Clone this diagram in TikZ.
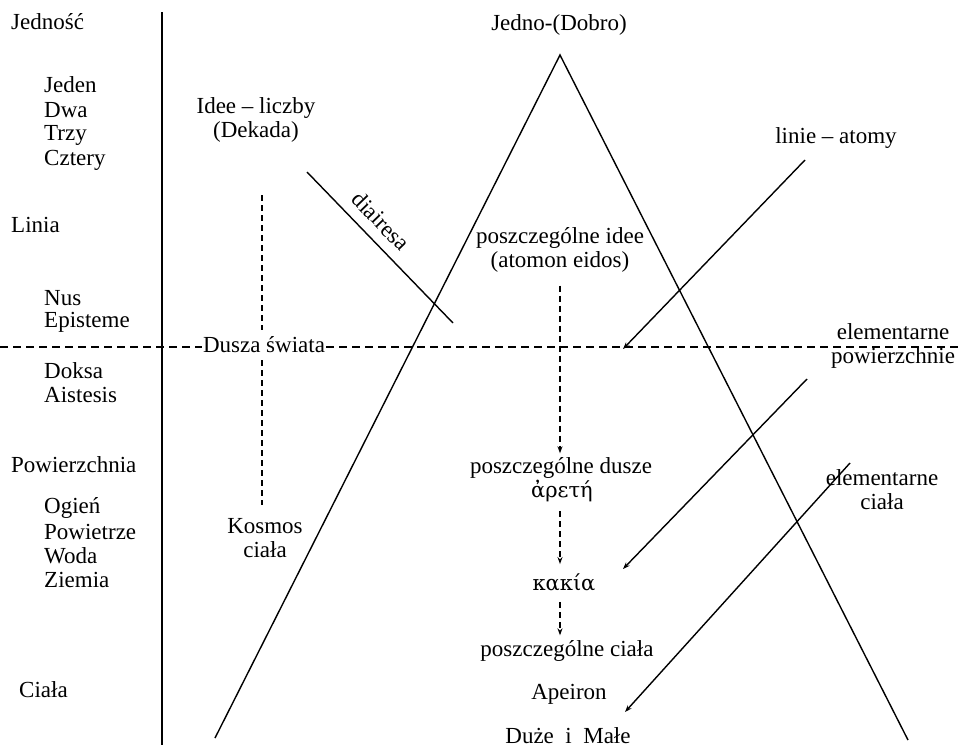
\documentclass[tikz,border=0pt]{standalone}
\usepackage{fontspec}
\setmainfont{Liberation Serif}
\newfontfamily\greekfont{DejaVu Serif}
\usetikzlibrary{arrows.meta}
\begin{document}
\begin{tikzpicture}[x=1pt,y=-1pt,
  lbl/.style={font=\fontsize{23}{24}\selectfont, inner sep=1pt, align=center},
  lft/.style={lbl, anchor=west, align=left},
  grk/.style={font=\greekfont\fontsize{21}{22}\selectfont, inner sep=1pt},
  solidline/.style={line width=1.4pt},
  dashline/.style={line width=1.3pt, dash pattern=on 6pt off 4pt},
  hdash/.style={line width=1.3pt, dash pattern=on 8pt off 5pt},
  tip/.style={-{Stealth[length=7pt,width=5pt]}}
]
\useasboundingbox (0,0) rectangle (962,747);

% left column
\node[lft] (jednosc) at (10,22) {Jedność};
\node[lft] (jeden) at (43,85) {Jeden};
\node[lft] (dwa) at (43,110) {Dwa};
\node[lft] (trzy) at (43,135) {Trzy};
\node[lft] (cztery) at (43,160) {Cztery};
\node[lft] (linia) at (10,225) {Linia};
\node[lft] (nus) at (43,298) {Nus};
\node[lft] (episteme) at (43,322) {Episteme};
\node[lft] (doksa) at (43,371) {Doksa};
\node[lft] (aistesis) at (43,395) {Aistesis};
\node[lft] (powierzchnia) at (10,465) {Powierzchnia};
\node[lft] (ogien) at (43,508) {Ogień};
\node[lft] (powietrze) at (43,532) {Powietrze};
\node[lft] (woda) at (43,556) {Woda};
\node[lft] (ziemia) at (43,580) {Ziemia};
\node[lft] (ciala) at (18,690) {Ciała};

\coordinate (vtop) at (162,12);
\coordinate (vbot) at (162,745);
\draw[solidline] (vtop) -- (vbot);

% triangle
\node[lbl] (jedno) at (559,25) {Jedno-(Dobro)};
\coordinate (apex) at (560,55);
\coordinate (lfoot) at (215,738);
\coordinate (rfoot) at (908,740);
\draw[solidline] (lfoot) -- (apex) -- (rfoot);

% left texts
\node[lbl] (idee) at (256,120) {Idee -- liczby\\(Dekada)};
\node[lbl] (dusza) at (264,345) {Dusza świata};
\node[lbl] (kosmos) at (265,538) {Kosmos\\ciała};
\coordinate (lds) at (262,195);
\draw[dashline, shorten >=6pt] (lds) -- (lds |- dusza.north);
\draw[dashline, shorten <=6pt, shorten >=12pt] (lds |- dusza.south) -- (lds |- kosmos.north);

% horizontal dashed line
\coordinate (hl) at (0,347);
\coordinate (hr) at (962,347);
\draw[hdash] (hl) -- (dusza.west |- hl);
\draw[hdash] (dusza.east |- hl) -- (hr);

% diairesa
\coordinate (d1) at (307,172);
\coordinate (d2) at (453,323);
\draw[solidline] (d1) -- (d2);
\node[lbl, rotate=-46] (diairesa) at (381,221) {diairesa};

% center column
\node[lbl] (idees) at (560,250) {poszczególne idee\\(atomon eidos)};
\node[lbl] (dusze) at (561,468) {poszczególne dusze};
\node[grk] (arete) at (562,491) {ἀρετή};
\node[grk] (kakia) at (564,582) {κακία};
\node[lbl] (ciala2) at (567,651) {poszczególne ciała};
\node[lbl] (apeiron) at (569,694) {Apeiron};
\node[lbl] (duze) at (568,736) {Duże~ i~ Małe};
\coordinate (cx) at (560,0);
\draw[dashline, tip, shorten <=12pt, shorten >=3pt] (cx |- idees.south) -- (cx |- dusze.north);
\draw[dashline, tip, shorten <=8pt, shorten >=8pt] (cx |- arete.south) -- (cx |- kakia.north);
\draw[dashline, tip, shorten <=10pt, shorten >=4pt] (cx |- kakia.south) -- (cx |- ciala2.north);

% right texts
\node[lbl] (linie) at (836,138) {linie -- atomy};
\node[lbl] (elpow) at (893,346) {elementarne\\powierzchnie};
\node[lbl] (elcia) at (882,490) {elementarne\\ciała};

\coordinate (la1) at (805,160);
\coordinate (la2) at (623,349);
\draw[solidline, tip] (la1) -- (la2);
\coordinate (ep1) at (807,379);
\coordinate (ep2) at (623,569);
\draw[solidline, tip] (ep1) -- (ep2);
\coordinate (ec1) at (850,463);
\coordinate (ec2) at (625,712);
\draw[solidline, tip] (ec1) -- (ec2);
\end{tikzpicture}
\end{document}
